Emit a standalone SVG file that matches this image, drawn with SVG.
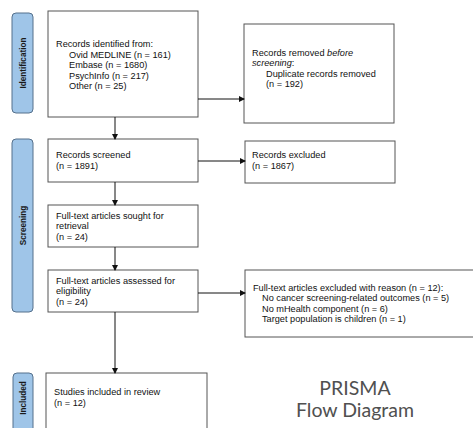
<svg xmlns="http://www.w3.org/2000/svg" width="473" height="428" viewBox="0 0 473 428">
<defs>
<style>
.box{fill:#fff;stroke:#555;stroke-width:1}
.lab{fill:#9fc5e8;stroke:#55708c;stroke-width:1}
.lt{font-family:"Liberation Sans",Arial,sans-serif;font-size:8.2px;font-weight:bold;fill:#1a1a1a;text-anchor:middle}
.t{font-family:"Liberation Sans",Arial,sans-serif;font-size:9.2px;fill:#111}
.c{stroke:#111;stroke-width:1;fill:none;marker-end:url(#ah)}
.title{font-family:"Lato","Open Sans",sans-serif;font-size:19.5px;fill:#505050;text-anchor:middle}
</style>
<marker id="ah" markerWidth="6" markerHeight="6" refX="5" refY="3" orient="auto" markerUnits="userSpaceOnUse">
<path d="M0,0 L6,3 L0,6 z" fill="#111"/>
</marker>
</defs>
<rect width="473" height="428" fill="#fff"/>

<g id="phase-identification">
<rect class="lab" x="12" y="13" width="21" height="100" rx="4"/>
<text class="lt" transform="translate(25.5,63) rotate(-90)">Identification</text>
</g>
<g id="phase-screening">
<rect class="lab" x="12" y="139" width="21" height="173" rx="4"/>
<text class="lt" transform="translate(25.5,225.5) rotate(-90)">Screening</text>
</g>
<g id="phase-included">
<rect class="lab" x="13" y="373" width="20" height="70" rx="4"/>
<text class="lt" transform="translate(26,398) rotate(-90)">Included</text>
</g>

<g id="records-identified">
<rect class="box" x="48" y="11" width="150" height="106"/>
<text class="t" x="56" y="47">Records identified from:</text>
<text class="t" x="69" y="57.5">Ovid MEDLINE (n = 161)</text>
<text class="t" x="69" y="68">Embase (n = 1680)</text>
<text class="t" x="69" y="78.5">PsychInfo (n = 217)</text>
<text class="t" x="69" y="89">Other (n = 25)</text>
</g>

<g id="records-removed">
<rect class="box" x="244" y="24" width="150" height="99"/>
<text class="t" x="252" y="56">Records removed <tspan font-style="italic">before</tspan></text>
<text class="t" x="252" y="66"><tspan font-style="italic">screening</tspan>:</text>
<text class="t" x="266" y="76.5">Duplicate records removed</text>
<text class="t" x="266" y="87">(n = 192)</text>
</g>

<g id="records-screened">
<rect class="box" x="48" y="139" width="150" height="43"/>
<text class="t" x="56" y="158">Records screened</text>
<text class="t" x="56" y="169">(n = 1891)</text>
</g>

<g id="records-excluded">
<rect class="box" x="245" y="141" width="150" height="42"/>
<text class="t" x="252" y="158">Records excluded</text>
<text class="t" x="252" y="169">(n = 1867)</text>
</g>

<g id="sought-retrieval">
<rect class="box" x="48" y="205" width="150" height="42"/>
<text class="t" x="56" y="218.5">Full-text articles sought for</text>
<text class="t" x="56" y="229">retrieval</text>
<text class="t" x="56" y="240">(n = 24)</text>
</g>

<g id="assessed-eligibility">
<rect class="box" x="48" y="270" width="150" height="42"/>
<text class="t" x="56" y="283.5">Full-text articles assessed for</text>
<text class="t" x="56" y="294">eligibility</text>
<text class="t" x="56" y="305">(n = 24)</text>
</g>

<g id="articles-excluded">
<rect class="box" x="245" y="270" width="240" height="67"/>
<text class="t" x="253" y="290.5">Full-text articles excluded with reason (n = 12):</text>
<text class="t" x="262" y="301">No cancer screening-related outcomes (n = 5)</text>
<text class="t" x="262" y="311.5">No mHealth component (n = 6)</text>
<text class="t" x="262" y="322">Target population is children (n = 1)</text>
</g>

<g id="studies-included">
<rect class="box" x="46" y="373" width="161" height="70"/>
<text class="t" x="54" y="394.5">Studies included in review</text>
<text class="t" x="54" y="405.5">(n = 12)</text>
</g>

<g id="connectors">
<line class="c" x1="198" y1="99" x2="244" y2="99"/>
<line class="c" x1="115" y1="117" x2="115" y2="139"/>
<line class="c" x1="198" y1="161" x2="245" y2="161"/>
<line class="c" x1="115" y1="182" x2="115" y2="205"/>
<line class="c" x1="115" y1="247" x2="115" y2="270"/>
<line class="c" x1="198" y1="293" x2="245" y2="293"/>
<line class="c" x1="115" y1="312" x2="115" y2="373"/>
</g>

<g id="title">
<text class="title" x="355" y="395">PRISMA</text>
<text class="title" x="355" y="417">Flow Diagram</text>
</g>
</svg>
